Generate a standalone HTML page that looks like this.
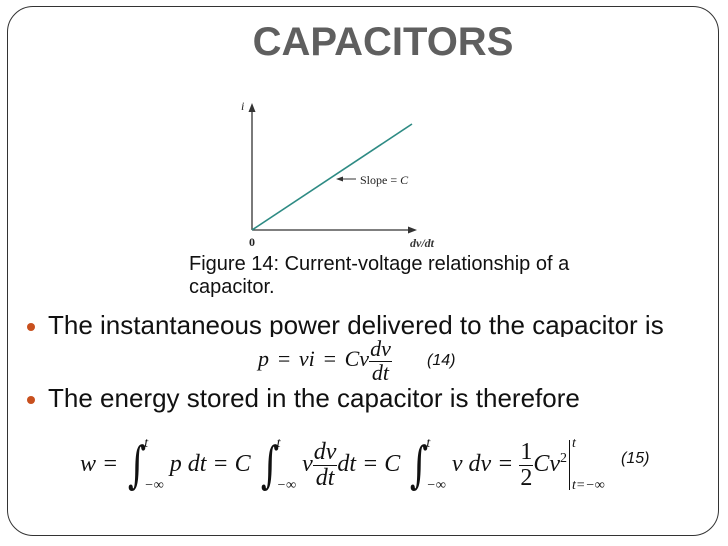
<!DOCTYPE html>
<html><head><meta charset="utf-8"><style>
body{margin:0;width:728px;height:546px;background:#fff;position:relative;overflow:hidden;font-family:"Liberation Sans",sans-serif}
.a{position:absolute;white-space:nowrap}
.s{font-family:"Liberation Serif",serif;font-style:italic;color:#111}
.r{font-family:"Liberation Serif",serif;color:#111}
.fr{display:inline-block;vertical-align:middle;text-align:center;line-height:1}
.fr span{display:block}
.fr .n{border-bottom:1px solid #111;padding:0 1px 1px}
.int{font-family:"DejaVu Serif",serif;font-style:normal;font-size:50px;display:inline-block;vertical-align:middle;line-height:1;transform:scaleX(.7)}
.lim{display:inline-block;vertical-align:middle;font-size:14px;line-height:1;margin-left:-6px}
</style></head><body>
<div style="position:absolute;left:7px;top:6px;width:712px;height:530px;border:1px solid #333;border-radius:26px;box-sizing:border-box"></div>
<div class="a" style="left:0;width:766px;text-align:center;top:20px;font-size:40px;font-weight:bold;color:#5f5f5f">CAPACITORS</div>
<svg class="a" style="left:0;top:0" width="728" height="546">
<line x1="252" y1="230" x2="252" y2="110" stroke="#333" stroke-width="1.3"/>
<polygon points="252,103 248.5,112 255.5,112" fill="#333"/>
<line x1="252" y1="230" x2="410" y2="230" stroke="#333" stroke-width="1.3"/>
<polygon points="417,230 408,226.5 408,233.5" fill="#333"/>
<line x1="252" y1="230" x2="412" y2="124" stroke="#2e8b84" stroke-width="1.6"/>
<line x1="340" y1="179" x2="356" y2="179" stroke="#333" stroke-width="1"/>
<polygon points="336,179 343,176.5 343,181.5" fill="#333"/>
<text x="360" y="184" font-family="Liberation Serif" font-size="12" fill="#222">Slope = <tspan font-style="italic">C</tspan></text>
<text x="241" y="110" font-family="Liberation Serif" font-style="italic" font-size="12" fill="#222">i</text>
<text x="249" y="246" font-family="Liberation Serif" font-weight="bold" font-size="12" fill="#222">0</text>
<text x="410" y="247" font-family="Liberation Serif" font-style="italic" font-weight="bold" font-size="12" fill="#333">dv/dt</text>
<circle cx="31" cy="327" r="4" fill="#c8501e"/>
<circle cx="31" cy="400" r="4" fill="#c8501e"/>
</svg>
<div class="a" style="left:189px;top:253px;font-size:20px;line-height:23px;color:#111">Figure 14: Current-voltage relationship of a<br>capacitor.</div>
<div class="a" style="left:48px;top:310px;height:27px;overflow:hidden;font-size:26px;line-height:30px;color:#111">The instantaneous power delivered to the capacitor is</div>
<div class="a" style="left:48px;top:383px;font-size:26px;line-height:30px;color:#111">The energy stored in the capacitor is therefore</div>
<div class="a s" style="left:258px;top:338px;font-size:22px;line-height:30px;word-spacing:2px">p <span class="r">=</span> vi <span class="r">=</span> Cv<span class="fr" style="font-size:22px"><span class="n">dv</span><span>dt</span></span></div>
<div class="a" style="left:427px;top:352px;font-size:16px;font-style:italic;color:#111">(14)</div>
<div class="a s" style="left:80px;top:428px;font-size:24px;line-height:62px">w <span class="r">=</span> <span class="int">∫</span><span class="lim">t<br><br><br>−∞</span> p dt <span class="r">=</span> C <span class="int">∫</span><span class="lim">t<br><br><br>−∞</span> v<span class="fr"><span class="n">dv</span><span>dt</span></span>dt <span class="r">=</span> C <span class="int">∫</span><span class="lim">t<br><br><br>−∞</span> v dv <span class="r">=</span> <span class="fr r" style="font-style:normal"><span class="n">1</span><span>2</span></span>Cv<sup style="font-size:14px;font-style:normal">2</sup><span style="display:inline-block;vertical-align:middle;border-left:1px solid #111;height:50px;margin-left:2px"></span><span class="lim" style="margin-left:2px">t<br><br><br>t=−∞</span></div>
<div class="a" style="left:621px;top:450px;font-size:16px;font-style:italic;color:#111">(15)</div>
</body></html>
